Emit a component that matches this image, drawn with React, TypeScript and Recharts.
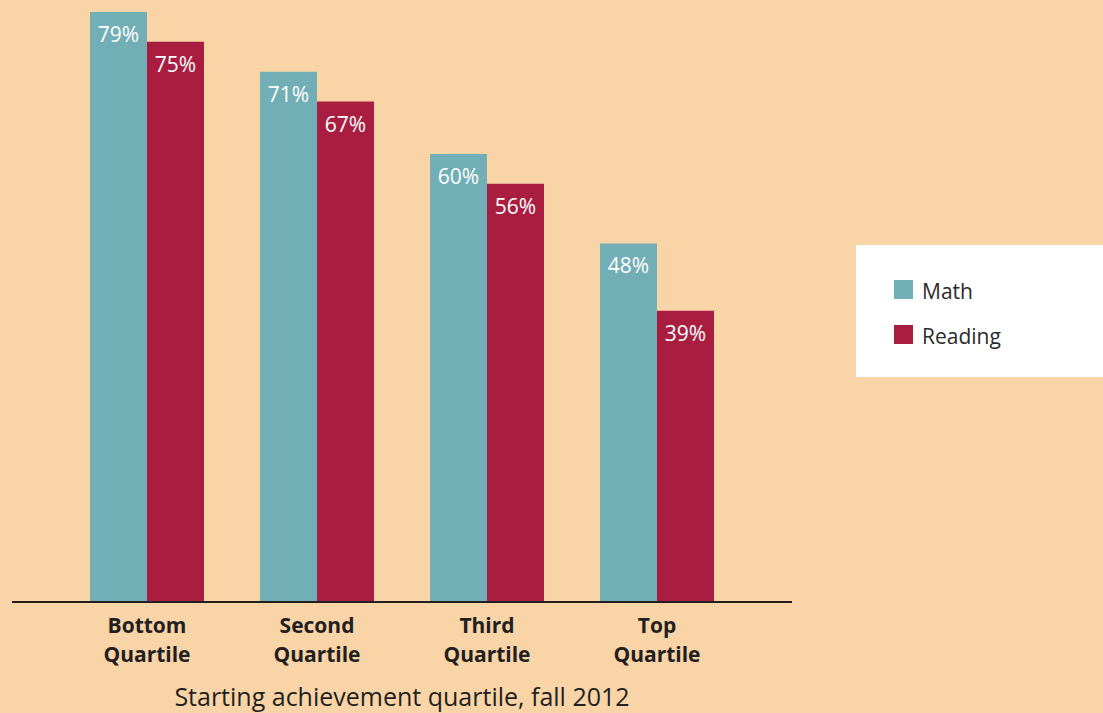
import { BarChart, Bar, XAxis, YAxis, Legend, LabelList } from 'recharts';

// Data
const quartiles = ['Bottom Quartile', 'Second Quartile', 'Third Quartile', 'Top Quartile'];
const mathPct = [79, 71, 60, 48];
const readingPct = [75, 67, 56, 39];

const BG = '#F8D4A7';
const MATH_COLOR = '#72AEB6';
const READING_COLOR = '#A91E40';
const INK = '#231F20';
const FONT = '"Open Sans", Roboto, sans-serif';

const chartData = quartiles.map((q, i) => ({
  name: q,
  math: mathPct[i],
  reading: readingPct[i],
}));

const QuartileTick = ({ x, y, payload }: any) => {
  const [first, ...rest] = String(payload.value).split(' ');
  return (
    <text x={x} y={y} textAnchor="middle" fill={INK} fontFamily={FONT} fontWeight={700} fontSize={21}>
      <tspan x={x} dy={31}>{first}</tspan>
      <tspan x={x} dy={29}>{rest.join(' ')}</tspan>
    </text>
  );
};

const LegendBox = ({ payload }: any) => (
  <div style={{ background: '#fff', width: 247, height: 132, position: 'relative', fontFamily: FONT }}>
    {(payload || []).map((item: any, i: number) => (
      <div
        key={item.value}
        style={{ position: 'absolute', left: 38, top: 35 + i * 45, display: 'flex', alignItems: 'center', height: 19 }}
      >
        <div style={{ width: 19, height: 19, background: item.color, marginRight: 9 }} />
        <span style={{ fontSize: 21, color: '#2b2b2b', lineHeight: '19px', position: 'relative', top: 2 }}>
          {item.value}
        </span>
      </div>
    ))}
  </div>
);

export default function App() {
  return (
    <div style={{ position: 'absolute', left: 0, top: 0, width: 1103, height: 713, background: BG }}>
      <BarChart
        width={1103}
        height={713}
        data={chartData}
        margin={{ top: 12, right: 311, left: 12, bottom: 0 }}
        barCategoryGap={28}
        barGap={0}
      >
        <YAxis hide domain={[0, 79]} />
        <XAxis
          dataKey="name"
          height={111}
          padding={{ left: 50, right: 50 }}
          axisLine={{ stroke: INK, strokeWidth: 2 }}
          tickLine={false}
          tickSize={0}
          tickMargin={0}
          tick={<QuartileTick />}
          interval={0}
          label={{
            value: 'Starting achievement quartile, fall 2012',
            position: 'insideBottom',
            offset: 7,
            fill: INK,
            fontSize: 25,
            fontFamily: FONT,
          }}
        />
        <Legend
          layout="vertical"
          align="center"
          verticalAlign="middle"
          wrapperStyle={{ left: 856, top: 245, width: 247, height: 132 }}
          content={<LegendBox />}
        />
        <Bar dataKey="math" name="Math" fill={MATH_COLOR} isAnimationActive={false}>
          <LabelList
            dataKey="math"
            position="insideTop"
            offset={15}
            formatter={(v: any) => `${v}%`}
            fill="#fff"
            fontSize={21}
            fontFamily={FONT}
          />
        </Bar>
        <Bar dataKey="reading" name="Reading" fill={READING_COLOR} isAnimationActive={false}>
          <LabelList
            dataKey="reading"
            position="insideTop"
            offset={15}
            formatter={(v: any) => `${v}%`}
            fill="#fff"
            fontSize={21}
            fontFamily={FONT}
          />
        </Bar>
      </BarChart>
    </div>
  );
}
